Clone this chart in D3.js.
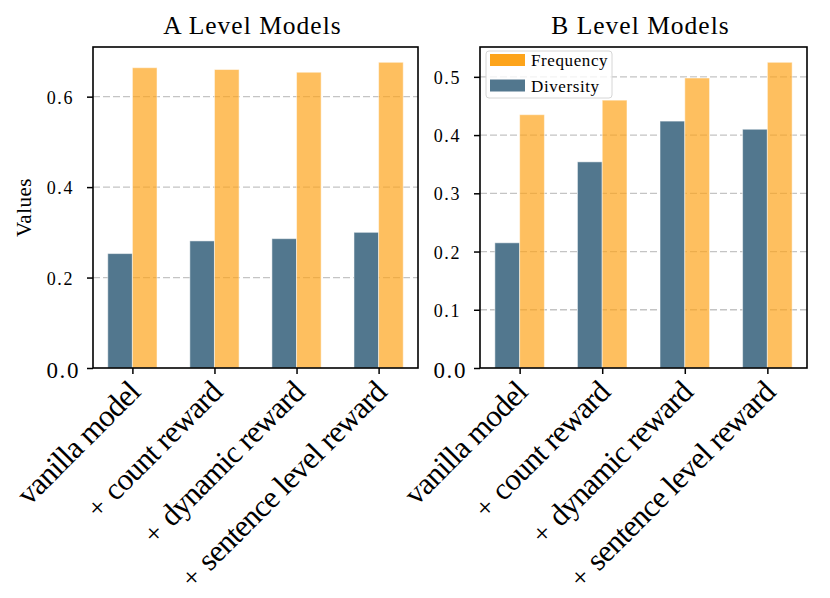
<!DOCTYPE html>
<html>
<head>
    <script src="https://d3js.org/d3.v7.min.js"></script>
    <style>
        body { margin: 0; background: #fff; }
        text { font-family: "Liberation Serif", "Times New Roman", serif; fill: #000; }
    </style>
</head>
<body>
    <svg width="830" height="598"></svg>

    <script>
        // Categories and values
        const categories = ["vanilla model", "+ count reward", "+ dynamic reward", "+ sentence level reward"];
        const seriesNames = ["Frequency", "Diversity"];

        const aDiversity = [0.253, 0.281, 0.286, 0.300];
        const aFrequency = [0.664, 0.660, 0.654, 0.676];
        const bDiversity = [0.215, 0.354, 0.424, 0.410];
        const bFrequency = [0.435, 0.460, 0.498, 0.525];

        const aTicks = [0.0, 0.2, 0.4, 0.6];
        const bTicks = [0.0, 0.1, 0.2, 0.3, 0.4, 0.5];

        const divColor = "#52778e";
        const freqColor = "#fda41b";

        const svg = d3.select("svg");
        const plotTop = 47, plotBottom = 368;
        const barW = 0.3;

        function drawPanel(x0, x1, title, diversity, frequency, ticks, showYLabel, showLegend) {
            const g = svg.append("g");

            const x = d3.scaleLinear().domain([-0.48, categories.length - 1 + 0.48]).range([x0, x1]);
            const ymax = d3.max(frequency.concat(diversity)) * 1.05;
            const y = d3.scaleLinear().domain([0, ymax]).range([plotBottom, plotTop]);

            // dashed grid (behind the bars)
            g.selectAll(".grid")
                .data(ticks.filter(t => t > 0))
                .enter()
                .append("line")
                .attr("x1", x0).attr("x2", x1)
                .attr("y1", d => y(d)).attr("y2", d => y(d))
                .attr("stroke", "#c4c4c4")
                .attr("stroke-width", 1.3)
                .attr("stroke-dasharray", "7,3");

            // diversity bars (left of the tick)
            g.selectAll(".div")
                .data(diversity)
                .enter()
                .append("rect")
                .attr("x", (d, i) => x(i - barW))
                .attr("y", d => y(d))
                .attr("width", x(barW) - x(0))
                .attr("height", d => plotBottom - y(d))
                .attr("fill", divColor)
                .attr("stroke", "#fff")
                .attr("stroke-opacity", 0.5)
                .attr("stroke-width", 1);

            // frequency bars (right of the tick), semi transparent
            g.selectAll(".freq")
                .data(frequency)
                .enter()
                .append("rect")
                .attr("x", (d, i) => x(i))
                .attr("y", d => y(d))
                .attr("width", x(barW) - x(0))
                .attr("height", d => plotBottom - y(d))
                .attr("fill", freqColor)
                .attr("fill-opacity", 0.7)
                .attr("stroke", "#fff")
                .attr("stroke-opacity", 0.5)
                .attr("stroke-width", 1);

            // frame
            g.append("rect")
                .attr("x", x0).attr("y", plotTop)
                .attr("width", x1 - x0).attr("height", plotBottom - plotTop)
                .attr("fill", "none")
                .attr("stroke", "#000")
                .attr("stroke-width", 1.6);

            // y axis
            const yAxis = g.append("g")
                .attr("transform", `translate(${x0},0)`)
                .call(d3.axisLeft(y).tickValues(ticks).tickFormat(d3.format(".1f")).tickSize(6).tickSizeOuter(0).tickPadding(13));
            yAxis.select(".domain").remove();
            yAxis.selectAll(".tick line").attr("stroke", "#000").attr("stroke-width", 1.5);
            yAxis.selectAll(".tick text")
                .attr("font-family", "Liberation Serif")
                .attr("font-size", d => d === 0 ? 23 : 18)
                .attr("letter-spacing", 1.6)
                .attr("dx", d => d === 0 ? 6 : 0)
                .attr("dy", d => d === 0 ? "0.42em" : "0.36em");

            // x axis
            const xAxis = g.append("g")
                .attr("transform", `translate(0,${plotBottom})`)
                .call(d3.axisBottom(x).tickValues(d3.range(categories.length)).tickFormat(i => categories[i]).tickSize(6).tickSizeOuter(0));
            xAxis.select(".domain").remove();
            xAxis.selectAll(".tick line").attr("stroke", "#000").attr("stroke-width", 1.5);
            xAxis.selectAll(".tick text")
                .attr("font-family", "Liberation Serif")
                .attr("font-size", 31)
                .attr("letter-spacing", -0.8)
                .attr("text-anchor", "end")
                .attr("dy", null)
                .attr("y", 0)
                .attr("transform", "translate(9,26) rotate(-45)")
                .each(function (i) {
                    const label = categories[i];
                    if (!label.startsWith("+ ")) return;
                    const t = d3.select(this).text(null);
                    // the "+" sits a little apart and smaller, it reads as × once rotated
                    t.append("tspan").attr("font-size", 28).attr("letter-spacing", 2).text("+");
                    t.append("tspan").text(label.slice(1));
                });

            // title
            g.append("text")
                .attr("x", (x0 + x1) / 2 - 3)
                .attr("y", 34)
                .attr("text-anchor", "middle")
                .attr("font-size", 25.5)
                .attr("letter-spacing", 1)
                .text(title);

            if (showYLabel) {
                g.append("text")
                    .attr("transform", `translate(31,${(plotTop + plotBottom) / 2}) rotate(-90)`)
                    .attr("text-anchor", "middle")
                    .attr("font-size", 21)
                    .attr("letter-spacing", 0.5)
                    .text("Values");
            }

            if (showLegend) {
                const lg = g.append("g").attr("transform", `translate(${x0 + 6},${plotTop + 4})`);
                lg.append("rect")
                    .attr("width", 126).attr("height", 47)
                    .attr("rx", 3)
                    .attr("fill", "#fff").attr("fill-opacity", 0.8)
                    .attr("stroke", "#d6d6d6").attr("stroke-width", 1);
                const legendColors = [freqColor, divColor];
                seriesNames.forEach((name, i) => {
                    lg.append("rect")
                        .attr("x", 4).attr("y", 3 + i * 25.5)
                        .attr("width", 35).attr("height", 12)
                        .attr("fill", legendColors[i]);
                    lg.append("text")
                        .attr("x", 45).attr("y", 15 + i * 25.5)
                        .attr("font-size", 17)
                        .attr("letter-spacing", 0.6)
                        .text(name);
                });
            }
        }

        drawPanel(93, 418, "A Level Models", aDiversity, aFrequency, aTicks, true, false);
        drawPanel(480, 807, "B Level Models", bDiversity, bFrequency, bTicks, false, true);
    </script>
</body>
</html>
